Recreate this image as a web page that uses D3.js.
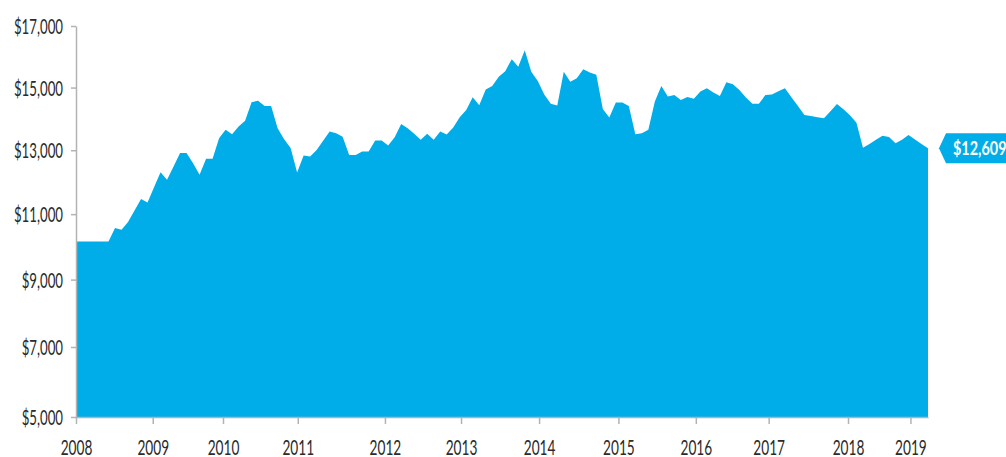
<!DOCTYPE html>
<html>
<head>
<meta charset="utf-8">
<script src="https://cdn.jsdelivr.net/npm/d3@7"></script>
<style>
  body { margin: 0; background: #fff; }
  svg { display: block; }
  .axis text { font-family: Lato, sans-serif; font-size: 21px; fill: #2b2b2b; }
  .axis path, .axis line { stroke: #b3b3b3; stroke-width: 1.5; }
  .tag text { font-family: Lato, sans-serif; font-weight: bold; font-size: 18px; fill: #fff; }
</style>
</head>
<body>
<script>
// growth of the account, one value per month
const values = [
  10160, 10160, 10160, 10160, 10160, 10160, 10570, 10520, 10760, 11110,
  11470, 11360, 11840, 12310, 12070, 12490, 12910, 12910, 12590, 12230,
  12730, 12730, 13380, 13650, 13510, 13750, 13940, 14530, 14580, 14410,
  14410, 13700, 13350, 13070, 12300, 12830, 12800, 13010, 13300, 13590,
  13540, 13430, 12850, 12850, 12960, 12960, 13310, 13310, 13150, 13410,
  13830, 13700, 13520, 13330, 13520, 13330, 13590, 13500, 13720, 14050,
  14280, 14690, 14430, 14940, 15050, 15350, 15530, 15920, 15670, 16210,
  15510, 15210, 14780, 14480, 14420, 15510, 15190, 15300, 15590, 15490,
  15410, 14310, 14040, 14520, 14520, 14410, 13510, 13540, 13650, 14550,
  15050, 14710, 14760, 14600, 14700, 14640, 14870, 14980, 14840, 14730,
  15170, 15110, 14920, 14680, 14480, 14480, 14760, 14780, 14880, 14980,
  14690, 14410, 14120, 14090, 14050, 14020, 14240, 14470, 14300, 14110,
  13870, 13080, 13200, 13330, 13460, 13420, 13220, 13330, 13480, 13340,
  13200, 13060
];

// where each year label sits, in months from the first point
const yearLabels = ['2008', '2009', '2010', '2011', '2012', '2013', '2014', '2015', '2016', '2017', '2018', '2019'];
const yearTickAt = [0, 11.8, 22.6, 34.1, 47.5, 59.2, 71.2, 83.4, 95.3, 106.5, 118.7, 128.3];

const yTicks = [5000, 7000, 9000, 11000, 13000, 15000, 17000];
const endLabel = '$12,609';

const width = 1006;
const height = 457;
const margin = { top: 26, right: 78, bottom: 40, left: 76 };
const blue = '#00ADE8';

const svg = d3.select('body').append('svg')
  .attr('width', width)
  .attr('height', height);

const x = d3.scaleLinear()
  .domain([0, values.length - 1])
  .range([margin.left, width - margin.right]);

// the value axis is slightly compressed towards the top
const y = d3.scalePow().exponent(0.87)
  .domain([5000, 17000])
  .range([height - margin.bottom, margin.top]);

const area = d3.area()
  .x((d, i) => x(i))
  .y0(y(5000))
  .y1(d => y(d));

svg.append('path')
  .datum(values)
  .attr('fill', blue)
  .attr('d', area);

// narrow the label glyphs like the original condensed type
function squeeze(sel, k) {
  sel.each(function() {
    const w = this.getComputedTextLength();
    d3.select(this)
      .attr('textLength', w * k)
      .attr('lengthAdjust', 'spacingAndGlyphs');
  });
}

const yAxis = svg.append('g')
  .attr('class', 'axis')
  .attr('transform', `translate(${margin.left},0)`)
  .call(d3.axisLeft(y)
    .tickValues(yTicks)
    .tickSize(5)
    .tickSizeOuter(0)
    .tickPadding(8)
    .tickFormat(d => '$' + d3.format(',')(d)));
yAxis.selectAll('text').attr('dy', '0.36em');
squeeze(yAxis.selectAll('text'), 0.63);

const xAxis = svg.append('g')
  .attr('class', 'axis')
  .attr('transform', `translate(0,${height - margin.bottom})`)
  .call(d3.axisBottom(x)
    .tickValues(yearTickAt)
    .tickSize(7)
    .tickSizeOuter(0)
    .tickPadding(16)
    .tickFormat((d, i) => yearLabels[i]));
squeeze(xAxis.selectAll('text'), 0.65);

// end value tag
const last = values.length - 1;
const tx = x(last) + 11;
const ty = y(values[last]);
const tag = svg.append('g').attr('class', 'tag');
tag.append('path')
  .attr('fill', blue)
  .attr('d', `M${tx},${ty} L${tx + 7},${ty - 15} L${width + 5},${ty - 15} L${width + 5},${ty + 15} L${tx + 7},${ty + 15} Z`);
const tagText = tag.append('text')
  .attr('x', tx + 14)
  .attr('y', ty)
  .attr('dy', '0.36em')
  .text(endLabel);
squeeze(tagText, 0.8);
</script>
</body>
</html>
